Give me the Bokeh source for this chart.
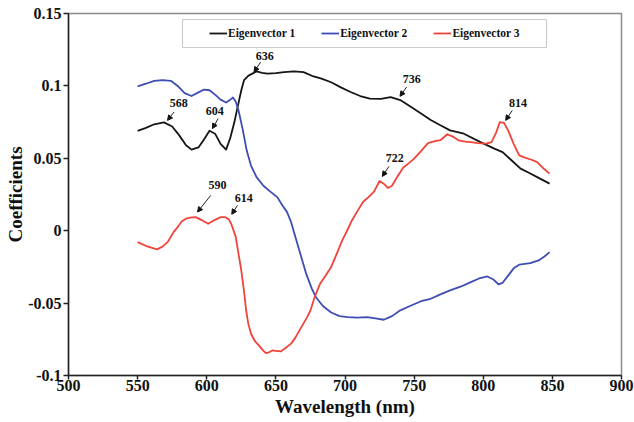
from bokeh.plotting import figure
from bokeh.models import (ColumnDataSource, Arrow, NormalHead, Legend, LegendItem,
                          BoxAnnotation, FixedTicker)
from bokeh.core.properties import value
from bokeh.embed import file_html
from bokeh.resources import INLINE

# ---------------- data ----------------
ev1_wl = [550, 556, 562, 569, 575, 580, 585, 589, 594, 598, 602, 606, 610, 614, 617, 620,
          622, 625, 627, 630, 633, 636, 640, 644, 650, 656, 663, 670, 676, 683, 690, 697,
          704, 711, 718, 726, 733, 740, 747, 755, 762, 769, 776, 786, 798, 808, 814, 820,
          827, 833, 839, 848]
ev1_val = [0.069, 0.071, 0.0735, 0.0748, 0.072, 0.066, 0.059, 0.056, 0.0575, 0.063, 0.069,
           0.067, 0.060, 0.056, 0.064, 0.075, 0.084, 0.097, 0.104, 0.107, 0.1085, 0.110,
           0.109, 0.1085, 0.1088, 0.1095, 0.110, 0.1095, 0.107, 0.105, 0.1025, 0.099, 0.0958,
           0.093, 0.0912, 0.091, 0.0922, 0.0902, 0.086, 0.081, 0.0765, 0.0728, 0.0693, 0.067,
           0.0612, 0.0567, 0.0543, 0.049, 0.0429, 0.040, 0.037, 0.0325]

ev2_wl = [550, 556, 562, 568, 574, 579, 584, 589, 594, 598, 602, 606, 610, 614, 617, 619,
          621, 623, 626, 629, 632, 636, 641, 646, 651, 655, 658, 661, 664, 668, 672, 676,
          679, 684, 690, 696, 702, 709, 716, 722, 728, 734, 740, 747, 755, 762, 769, 776,
          784, 791, 797, 803, 807, 811, 814, 818, 822, 826, 834, 840, 844, 848]
ev2_val = [0.0997, 0.1015, 0.1035, 0.104, 0.1035, 0.100, 0.095, 0.093, 0.0955, 0.0975,
           0.097, 0.094, 0.0905, 0.0885, 0.0905, 0.092, 0.089, 0.083, 0.070, 0.055, 0.045,
           0.037, 0.031, 0.027, 0.0232, 0.017, 0.013, 0.006, -0.004, -0.017, -0.030, -0.040,
           -0.046, -0.052, -0.0565, -0.059, -0.0597, -0.060, -0.0597, -0.0605, -0.0615,
           -0.059, -0.055, -0.052, -0.0487, -0.047, -0.044, -0.0412, -0.0385, -0.0355,
           -0.033, -0.0316, -0.0335, -0.037, -0.036, -0.031, -0.026, -0.0235, -0.0224,
           -0.0205, -0.018, -0.0148]

ev3_wl = [550, 557, 564, 568, 572, 576, 579, 582, 585, 588, 592, 596, 601, 606, 610, 613,
          616, 618, 621, 623, 625, 627, 628.5, 630, 632, 635, 638, 641, 643, 645, 647.5,
          650, 653.5, 657, 661, 664, 667, 670, 673, 675, 678, 682, 686, 690, 694, 698, 702,
          705, 709, 713, 717, 721, 725, 728, 731, 734, 738, 742, 746, 750, 755, 760, 765,
          769, 774, 778, 782, 787, 791, 796, 802, 806, 809, 812, 815, 818, 822, 826, 830,
          835, 839, 843, 848]
ev3_val = [-0.0079, -0.0109, -0.0129, -0.011, -0.0075, -0.001, 0.0025, 0.0065, 0.0083,
           0.009, 0.0094, 0.0075, 0.0048, 0.0075, 0.0094, 0.0094, 0.0078, 0.004, -0.0044,
           -0.016, -0.0275, -0.042, -0.055, -0.064, -0.0712, -0.0765, -0.0795, -0.083,
           -0.0846, -0.084, -0.0827, -0.083, -0.0834, -0.081, -0.078, -0.074, -0.069, -0.064,
           -0.059, -0.0551, -0.046, -0.0366, -0.031, -0.025, -0.016, -0.0067, 0.001, 0.0071,
           0.0135, 0.0198, 0.0232, 0.027, 0.0343, 0.0325, 0.0295, 0.031, 0.0375, 0.0435,
           0.0465, 0.0498, 0.055, 0.0605, 0.0618, 0.0625, 0.0666, 0.065, 0.0624, 0.0615,
           0.0612, 0.0605, 0.0601, 0.0612, 0.067, 0.075, 0.0745, 0.0693, 0.060, 0.052,
           0.0505, 0.049, 0.0474, 0.0435, 0.0394]

series_names = ["Eigenvector 1", "Eigenvector 2", "Eigenvector 3"]
series_colors = ["#151515", "#3d4db3", "#f2433a"]

# peak annotations
peak_labels = ["568", "604", "636", "736", "814", "722", "590", "614"]
label_x = [579.8, 605.8, 642.0, 748.2, 825.2, 736.0, 607.7, 626.8]
label_y = [0.088, 0.0824, 0.1205, 0.1046, 0.0883, 0.050, 0.0315, 0.0223]
arrow_x0 = [576.4, 608.2, 639.0, 744.6, 821.0, 731.8, 602.9, 622.2]
arrow_y0 = [0.082, 0.0774, 0.1165, 0.0993, 0.0831, 0.0444, 0.0244, 0.0175]
arrow_x1 = [571.6, 604.1, 634.2, 739.8, 816.2, 727.0, 593.3, 618.1]
arrow_y1 = [0.0762, 0.0705, 0.1096, 0.0928, 0.0762, 0.0375, 0.0129, 0.0113]

x_ticks = [500, 550, 600, 650, 700, 750, 800, 850, 900]
y_ticks = [-0.1, -0.05, 0, 0.05, 0.1, 0.15]
y_tick_labels = ["-0.1", "-0.05", "0", "0.05", "0.1", "0.15"]

# ---------------- figure ----------------
SERIF = "Liberation Serif"
W, H = 634, 422
BL, BR, BT, BB = 68, 13, 13, 47
p = figure(width=W, height=H, x_range=(500, 900), y_range=(-0.1, 0.15),
           output_backend="svg", toolbar_location=None,
           min_border_left=BL, min_border_right=BR, min_border_top=BT, min_border_bottom=BB)
p.grid.visible = False
p.outline_line_color = "#8a8a8a"
p.outline_line_width = 1.5
p.background_fill_color = "white"
p.border_fill_color = "white"

for ax in (p.xaxis[0], p.yaxis[0]):
    ax.axis_line_color = "#222222"
    ax.axis_line_width = 1.5
    ax.major_tick_line_color = "#222222"
    ax.major_tick_line_width = 1.5
    ax.major_tick_out = 5
    ax.major_tick_in = 0
    ax.minor_tick_line_color = None
    ax.major_label_text_font = SERIF
    ax.major_label_text_font_style = "bold"
    ax.major_label_text_color = "#111111"
    ax.major_label_text_font_size = "16px"
    ax.axis_label_text_font = SERIF
    ax.axis_label_text_font_style = "bold"
    ax.axis_label_text_color = "#111111"
    ax.axis_label_text_font_size = "19px"

p.xaxis.ticker = FixedTicker(ticks=x_ticks)
p.xaxis.major_tick_out = 4
p.xaxis.major_label_standoff = 0
p.xaxis.axis_label = "Wavelength (nm)"
p.xaxis.axis_label_standoff = 2

p.yaxis.ticker = FixedTicker(ticks=y_ticks)
p.yaxis.major_label_overrides = {t: s for t, s in zip(y_ticks, y_tick_labels)}
p.yaxis.major_label_standoff = 2
p.yaxis.axis_label = "Coefficients"
p.yaxis.axis_label_standoff = -1

renderers = []
for wl, vals, c in zip([ev1_wl, ev2_wl, ev3_wl], [ev1_val, ev2_val, ev3_val], series_colors):
    r = p.line(wl, vals, line_color=c, line_width=1.8, line_join="round")
    renderers.append(r)

# arrows + labels
asrc = ColumnDataSource(dict(x0=arrow_x0, y0=arrow_y0, x1=arrow_x1, y1=arrow_y1))
p.add_layout(Arrow(source=asrc, x_start="x0", y_start="y0", x_end="x1", y_end="y1",
                   line_color="#222222", line_width=1,
                   end=NormalHead(size=5, line_color="#111111", fill_color="#111111",
                                  line_width=1)))
p.text(x=label_x, y=label_y, text=peak_labels, text_align="center",
       text_baseline="middle", text_font=value(SERIF), text_font_style="bold",
       text_font_size="12px", text_color="#111111")

# legend box (canvas pixel units)
p.add_layout(BoxAnnotation(left=182, right=546, top=19, bottom=47,
                           left_units="canvas", right_units="canvas",
                           top_units="canvas", bottom_units="canvas",
                           fill_color="white", fill_alpha=1.0,
                           line_color="#555555", line_width=1.2, level="annotation"))

frame_h = H - BT - BB
legend = Legend(items=[LegendItem(label=n, renderers=[r]) for n, r in zip(series_names, renderers)],
                orientation="horizontal", location=(141, frame_h - 30),
                padding=0, spacing=26, margin=0,
                glyph_width=18, glyph_height=20, label_standoff=1, label_height=20,
                label_text_font=SERIF, label_text_font_style="bold",
                label_text_font_size="11.5px", label_text_color="#111111",
                border_line_alpha=0, background_fill_alpha=0)
p.add_layout(legend)

open("out.html", "w").write(file_html(p, INLINE))
